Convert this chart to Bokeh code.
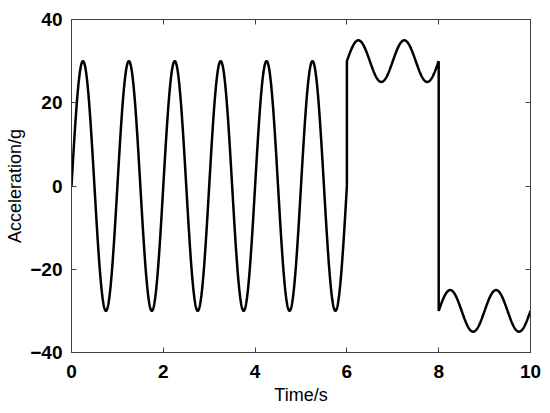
import numpy as np
from bokeh.plotting import figure
from bokeh.models import LinearAxis, FixedTicker, Range1d, CustomJSTickFormatter
from bokeh.embed import file_html
from bokeh.resources import INLINE

# Segments: sinusoidal pieces with period 1 s
seg_start = [0, 6, 8]
seg_end = [6, 8, 10]
seg_offset = [0, 30, -30]
seg_amplitude = [30, 5, 5]
seg_period = [1, 1, 1]

x_ticks = [0, 2, 4, 6, 8, 10]
y_ticks = [-40, -20, 0, 20, 40]

ts, ys = [], []
for a, b, off, amp, per in zip(seg_start, seg_end, seg_offset, seg_amplitude, seg_period):
    t = np.linspace(a, b, int((b - a) * 200) + 1)
    ts.append(t)
    ys.append(off + amp * np.sin(2 * np.pi * t / per))
t_all = np.concatenate(ts)
y_all = np.concatenate(ys)

p = figure(width=550, height=413, output_backend="svg", toolbar_location=None,
           x_range=Range1d(0, 10), y_range=Range1d(-40, 40),
           min_border_left=71, min_border_right=20, min_border_top=19, min_border_bottom=61)
p.xgrid.visible = False
p.ygrid.visible = False
p.outline_line_color = "#404040"
p.background_fill_color = "white"
p.border_fill_color = "white"

p.line(t_all, y_all, line_color="black", line_width=2.5)

axis_color = "#404040"
font = "Liberation Sans"
for ax, ticks in ((p.xaxis[0], x_ticks), (p.yaxis[0], y_ticks)):
    ax.ticker = FixedTicker(ticks=ticks)
    ax.major_tick_in = 5
    ax.major_tick_out = 0
    ax.minor_tick_line_color = None
    ax.axis_line_color = axis_color
    ax.major_tick_line_color = axis_color
    ax.major_label_text_font = font
    ax.major_label_text_font_size = "19px"
    ax.major_label_text_font_style = "bold"
    ax.major_label_text_color = "black"
    ax.axis_label_text_font = font
    ax.axis_label_text_font_size = "18px"
    ax.axis_label_text_font_style = "normal"
    ax.axis_label_text_color = "black"

p.xaxis[0].axis_label = "Time/s"
p.yaxis[0].axis_label = "Acceleration/g"
p.xaxis[0].major_label_standoff = 12
p.yaxis[0].major_label_standoff = 9
p.xaxis[0].axis_label_standoff = 4
p.yaxis[0].axis_label_standoff = 2

for loc, ticks in (("above", x_ticks), ("right", y_ticks)):
    ax = LinearAxis(ticker=FixedTicker(ticks=ticks),
                    formatter=CustomJSTickFormatter(code="return ''"))
    ax.major_tick_in = 5
    ax.major_tick_out = 0
    ax.minor_tick_line_color = None
    ax.axis_line_color = axis_color
    ax.major_tick_line_color = axis_color
    ax.major_label_text_font_size = "1px"
    p.add_layout(ax, loc)

open("out.html", "w").write(file_html(p, INLINE))
